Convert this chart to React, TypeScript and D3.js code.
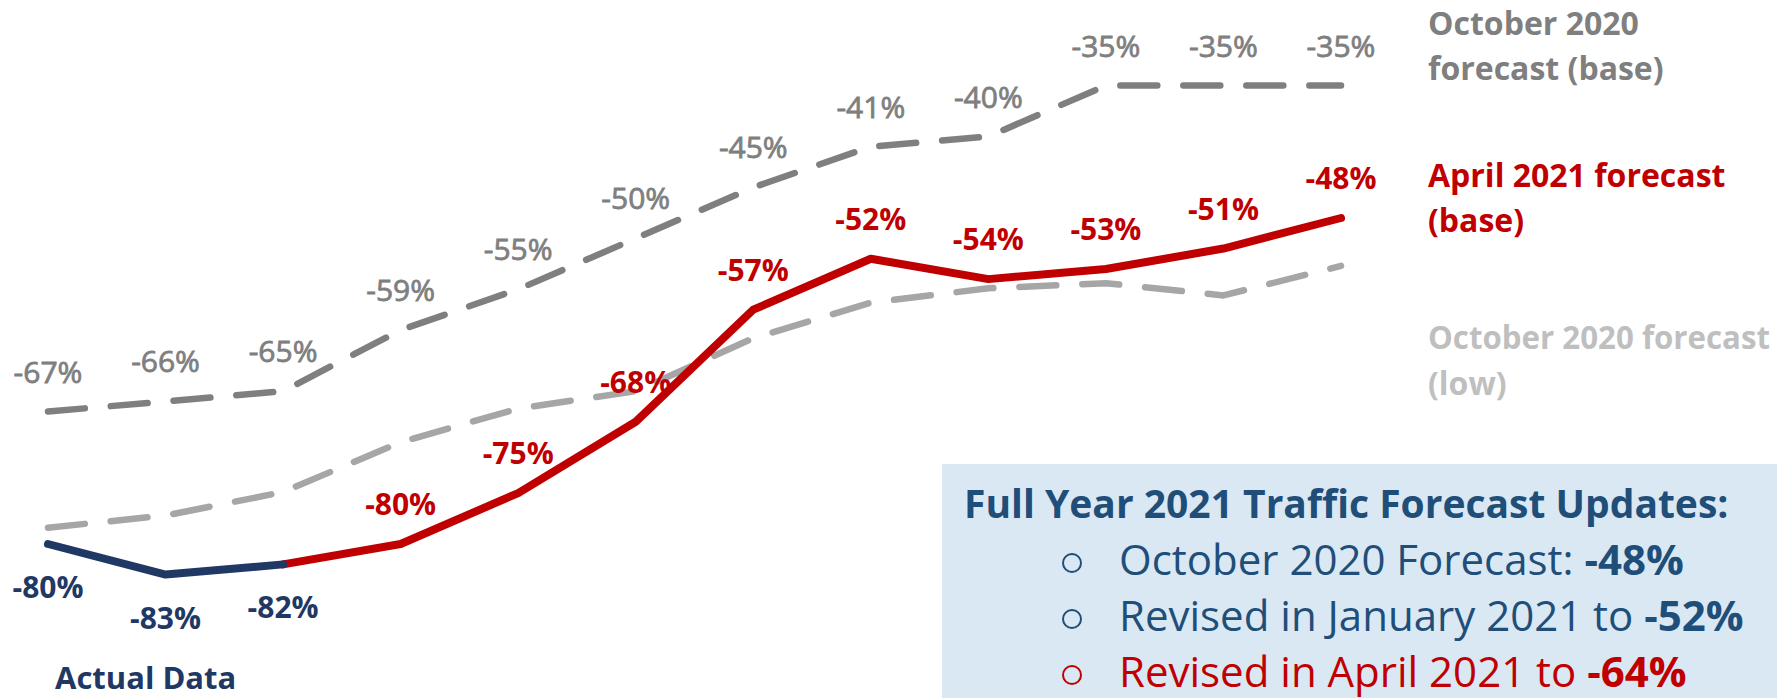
import { line, scaleLinear, scalePoint } from "d3";

const width = 1777;
const height = 698;

const months = ["Jan", "Feb", "Mar", "Apr", "May", "Jun", "Jul", "Aug", "Sep", "Oct", "Nov", "Dec"];
const octoberBase = [-67, -66, -65, -59, -55, -50, -45, -41, -40, -35, -35, -35];
const octoberLow = [-78.4, -77.2, -74.9, -70.0, -66.7, -65.0, -59.8, -56.3, -54.9, -54.4, -55.6, -52.7];
const actualData = [-80, -83, -82, null, null, null, null, null, null, null, null, null];
const april2021 = [null, null, -82, -80, -75, -68, -57, -52, -54, -53, -51, -48];

const legendBase = ["October 2020", "forecast (base)"];
const legendApril = ["April 2021 forecast", "(base)"];
const legendLow = ["October 2020 forecast", "(low)"];

const boxTitle = "Full Year 2021 Traffic Forecast Updates:";
const boxLines = [
  { text: "October 2020 Forecast: ", value: "-48%", color: "#1f4e79" },
  { text: "Revised in January 2021 to ", value: "-52%", color: "#1f4e79" },
  { text: "Revised in April 2021 to ", value: "-64%", color: "#c00000" },
];

const font = "'Open Sans', 'Noto Sans', sans-serif";

const x = scalePoint<string>().domain(months).range([48, 1341]);
const y = scaleLinear().domain([-80, -48]).range([544, 218]);

type Pt = number | null;
const path = line<Pt>()
  .defined((d) => d !== null)
  .x((_, i) => x(months[i])!)
  .y((d) => y(d as number));

const fmt = (v: number) => `${Math.round(v)}%`;

const App = () => {
  return (
    <svg width={width} height={height} style={{ position: "absolute", left: 0, top: 0 }}>
      <rect x={942} y={464} width={width - 942} height={height - 464} fill="#dae8f4" />

      <path d={path(octoberBase)!} fill="none" stroke="#7f7f7f" strokeWidth={6.5} strokeDasharray="37,26" strokeLinecap="round" strokeLinejoin="round" />
      <path d={path(octoberLow)!} fill="none" stroke="#a6a6a6" strokeWidth={6.5} strokeDasharray="37,26" strokeLinecap="round" strokeLinejoin="round" />
      <path d={path(april2021)!} fill="none" stroke="#c00000" strokeWidth={8} strokeLinejoin="round" strokeLinecap="round" />
      <path d={path(actualData)!} fill="none" stroke="#1f3864" strokeWidth={8} strokeLinejoin="round" strokeLinecap="round" />

      <g fontFamily={font} fontSize={30} textAnchor="middle">
        {/* gray labels: a thin stroke gives them the heavier look of the original */}
        {octoberBase.map((v, i) => (
          <text key={"b" + i} x={x(months[i])} y={y(v) - 29} fill="#7f7f7f" stroke="#7f7f7f" strokeWidth={0.8}>
            {fmt(v)}
          </text>
        ))}
        {april2021.map((v, i) =>
          v !== null && i > 2 ? (
            <text key={"r" + i} x={x(months[i])} y={y(v) - 29} fill="#c00000" fontWeight={700}>
              {fmt(v)}
            </text>
          ) : null
        )}
        {actualData.map((v, i) =>
          v !== null ? (
            <text key={"a" + i} x={x(months[i])} y={y(v) + 54} fill="#1f3864" fontWeight={700}>
              {fmt(v)}
            </text>
          ) : null
        )}
      </g>

      <g fontFamily={font} fontSize={32} fontWeight={700}>
        {legendBase.map((t, i) => (
          <text key={t} x={1428} y={35 + i * 45} fill="#7f7f7f">{t}</text>
        ))}
        {legendApril.map((t, i) => (
          <text key={t} x={1428} y={187 + i * 45} fill="#c00000">{t}</text>
        ))}
        {legendLow.map((t, i) => (
          <text
            key={t}
            x={1428}
            y={349 + i * 46}
            fill="#bfbfbf"
            textLength={i === 0 ? 342 : undefined}
            lengthAdjust={i === 0 ? "spacingAndGlyphs" : undefined}
          >
            {t}
          </text>
        ))}
      </g>

      <text x={55} y={689} fontFamily={font} fontSize={31} fontWeight={700} fill="#1f3864">
        Actual Data
      </text>

      <text x={964} y={518} fontFamily={font} fontSize={39} fontWeight={700} fill="#1f4e79">
        {boxTitle}
      </text>
      {boxLines.map((l, i) => (
        <g key={l.text}>
          <circle cx={1072} cy={563 + i * 56} r={9} fill="none" stroke={l.color} strokeWidth={2} />
          <text x={1119} y={575 + i * 56} fontFamily={font} fontSize={42} fill={l.color}>
            {l.text}
            <tspan fontWeight={700}>{l.value}</tspan>
          </text>
        </g>
      ))}
    </svg>
  );
};

export default App;
